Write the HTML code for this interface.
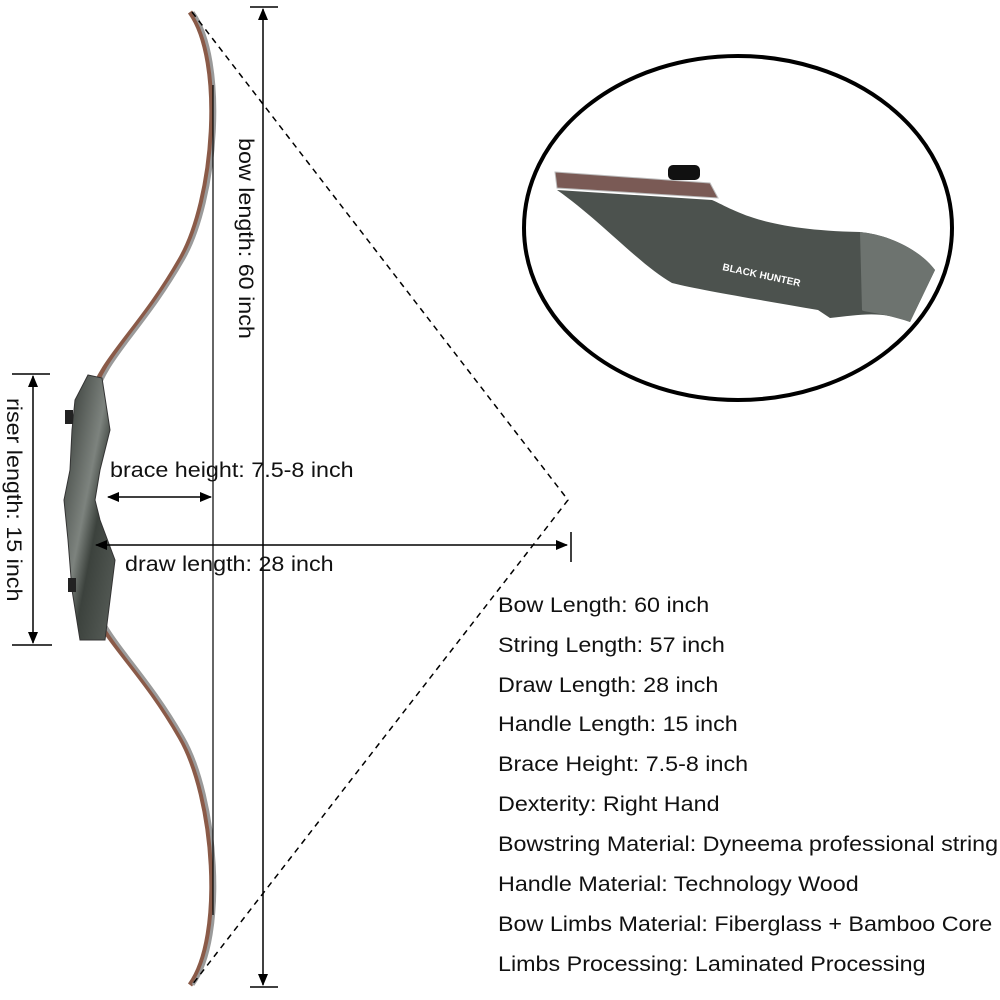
<!DOCTYPE html>
<html><head><style>
body{margin:0;background:#fff;width:1000px;height:1000px;overflow:hidden;font-family:"Liberation Sans",sans-serif}
.t{position:absolute;font-size:21px;color:#111;white-space:nowrap;transform-origin:0 0;transform:scaleX(1.11)}
.v{position:absolute;font-size:21px;color:#111;white-space:nowrap;transform-origin:0 0}
</style></head><body>
<svg width="1000" height="1000" style="position:absolute;left:0;top:0">
<defs>
<linearGradient id="g" x1="0" x2="1" y1="0" y2="1"><stop offset="0" stop-color="#2e332f"/><stop offset=".45" stop-color="#7d837e"/><stop offset=".6" stop-color="#3c423d"/><stop offset="1" stop-color="#5a605b"/></linearGradient>
<marker id="a" markerWidth="12" markerHeight="10" refX="11" refY="5" orient="auto-start-reverse" markerUnits="userSpaceOnUse"><path d="M0,0 L12,5 L0,10 Z" fill="#000"/></marker>
</defs>
<path d="M190,12 C225,60 215,200 180,260 C140,330 100,360 90,400" fill="none" stroke="#8a5a48" stroke-width="5"/>
<path d="M193,12 C228,60 218,200 183,260 C143,330 103,360 95,400" fill="none" stroke="#9a9a9a" stroke-width="3"/>
<path d="M190,985 C225,937 215,797 180,737 C140,667 100,637 90,600" fill="none" stroke="#8a5a48" stroke-width="5"/>
<path d="M193,985 C228,937 218,797 183,737 C143,667 103,637 95,600" fill="none" stroke="#9a9a9a" stroke-width="3"/>
<path d="M88,375 L102,378 L110,430 L100,470 L95,500 L100,520 L115,560 L110,600 L105,640 L80,640 L72,590 L68,540 L64,500 L70,470 L72,430 L75,400 Z" fill="url(#g)" stroke="#333" stroke-width="1"/>
<rect x="65" y="410" width="8" height="14" fill="#222"/><rect x="68" y="578" width="8" height="14" fill="#222"/>
<line x1="213" y1="85" x2="213" y2="915" stroke="#000" stroke-width="1.2"/>
<line x1="250" y1="7" x2="278" y2="7" stroke="#000" stroke-width="1.5"/>
<line x1="250" y1="987" x2="278" y2="987" stroke="#000" stroke-width="1.5"/>
<line x1="263" y1="9" x2="263" y2="985" stroke="#000" stroke-width="1.5" marker-start="url(#a)" marker-end="url(#a)"/>
<polyline points="192,12 568,500 192,985" fill="none" stroke="#000" stroke-width="1.5" stroke-dasharray="6,5"/>
<line x1="12" y1="374" x2="50" y2="374" stroke="#000" stroke-width="1.5"/>
<line x1="12" y1="645" x2="52" y2="645" stroke="#000" stroke-width="1.5"/>
<line x1="33" y1="376" x2="33" y2="643" stroke="#000" stroke-width="1.5" marker-start="url(#a)" marker-end="url(#a)"/>
<line x1="108" y1="497" x2="211" y2="497" stroke="#000" stroke-width="1.5" marker-start="url(#a)" marker-end="url(#a)"/>
<line x1="96" y1="545" x2="567" y2="545" stroke="#000" stroke-width="1.5" marker-start="url(#a)" marker-end="url(#a)"/>
<line x1="571" y1="532" x2="571" y2="562" stroke="#000" stroke-width="1.5"/>
<path d="M555,172 L710,183 L718,198 L557,188 Z" fill="#7a5a55" stroke="#bbb" stroke-width="1"/>
<rect x="668" y="165" width="32" height="15" rx="5" fill="#111"/>
<path d="M557,190 L712,200 C735,210 760,230 860,232 C890,235 920,250 935,270 L910,322 C880,310 860,315 830,318 L818,310 C760,300 700,290 672,283 C640,265 600,220 557,190 Z" fill="#4c524e"/>
<path d="M860,232 C890,235 920,250 935,270 L910,322 C880,312 862,312 862,310 Z" fill="#6d736f"/>
<text x="722" y="270" fill="#fff" font-size="10" font-weight="bold" transform="rotate(12 722 270)">BLACK HUNTER</text>
<ellipse cx="738" cy="228" rx="214" ry="172" fill="none" stroke="#000" stroke-width="4"/>
</svg>
<div class="t" style="left:110px;top:459px">brace height: 7.5-8 inch</div>
<div class="t" style="left:125px;top:553px">draw length: 28 inch</div>
<div class="v" style="left:230px;top:138px;transform:rotate(90deg) translate(0,-27px) scaleX(1.11)">bow length: 60 inch</div>
<div class="v" style="left:-2px;top:398px;transform:rotate(90deg) translate(0,-27px) scaleX(1.11)">riser length: 15 inch</div>
<div class="t" style="left:498px;top:594px">Bow Length: 60 inch</div>
<div class="t" style="left:498px;top:634px">String Length: 57 inch</div>
<div class="t" style="left:498px;top:674px">Draw Length: 28 inch</div>
<div class="t" style="left:498px;top:713px">Handle Length: 15 inch</div>
<div class="t" style="left:498px;top:753px">Brace Height: 7.5-8 inch</div>
<div class="t" style="left:498px;top:793px">Dexterity: Right Hand</div>
<div class="t" style="left:498px;top:833px">Bowstring Material: Dyneema professional string</div>
<div class="t" style="left:498px;top:873px">Handle Material: Technology Wood</div>
<div class="t" style="left:498px;top:913px">Bow Limbs Material: Fiberglass + Bamboo Core</div>
<div class="t" style="left:498px;top:953px">Limbs Processing: Laminated Processing</div>
</body></html>
